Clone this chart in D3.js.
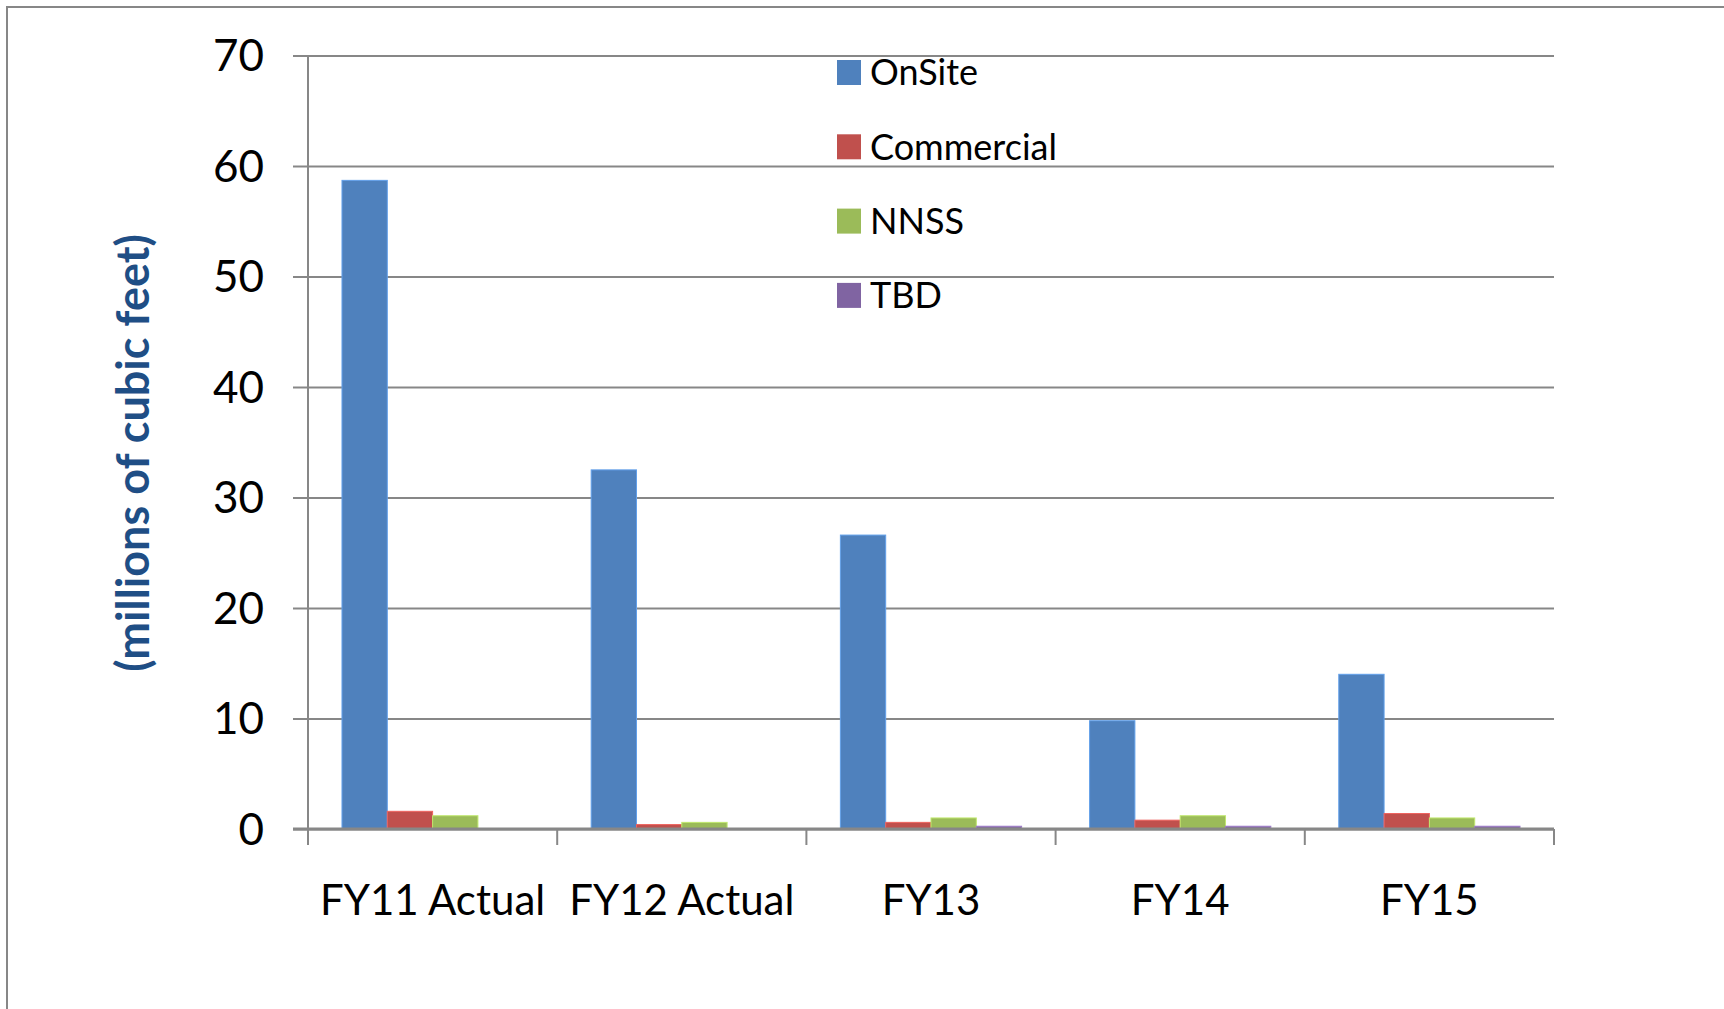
<!DOCTYPE html>
<html>
<head>
<meta charset="utf-8">
<script src="https://cdn.jsdelivr.net/npm/d3@7"></script>
<style>
  body { margin: 0; background: #fff; }
  text { font-family: Lato, "Noto Sans", sans-serif; }
</style>
</head>
<body>
<script>
// données
const categories = ["FY11 Actual", "FY12 Actual", "FY13", "FY14", "FY15"];
const seriesNames = ["OnSite", "Commercial", "NNSS", "TBD"];
const onSite = [58.7, 32.5, 26.6, 9.8, 14.0];
const commercial = [1.6, 0.4, 0.6, 0.8, 1.4];
const nnss = [1.2, 0.6, 1.0, 1.2, 1.0];
const tbd = [0, 0, 0.25, 0.25, 0.25];
const yTicks = [0, 10, 20, 30, 40, 50, 60, 70];
const colors = ["#4F81BD", "#C0504D", "#9BBB59", "#8064A2"];
const yTitle = "(millions of cubic feet)";

const values = [onSite, commercial, nnss, tbd];
const data = categories.map((c, i) => ({
    cat: c,
    vals: seriesNames.map((s, j) => ({ serie: s, v: values[j][i], color: colors[j] }))
}));

const W = 1724, H = 1009;
const margin = {top: 55.5, right: 170, bottom: 180, left: 308};
const width = W - margin.left - margin.right;
const height = H - margin.top - margin.bottom;
const gridColor = "#878787";

const svg = d3.select("body").append("svg")
    .attr("width", W)
    .attr("height", H);

// cadre de la zone du graphique (sort de l'image à droite et en bas)
svg.append("rect")
    .attr("x", 7).attr("y", 7)
    .attr("width", W + 20).attr("height", H + 20)
    .attr("fill", "none")
    .attr("stroke", gridColor)
    .attr("stroke-width", 2);

const g = svg.append("g")
    .attr("transform", `translate(${margin.left},${margin.top})`);

// Échelles
const x0 = d3.scaleBand().domain(categories).range([0, width]).padding(0);
const bw = x0.bandwidth() / 5.5;
const x1 = d3.scaleBand().domain(seriesNames)
    .range([x0.bandwidth() / 2 - 2 * bw, x0.bandwidth() / 2 + 2 * bw]).padding(0);
const y = d3.scaleLinear().domain([0, 70]).range([height, 0]);

// grille horizontale + petites graduations à gauche
const yAxis = g.append("g")
    .call(d3.axisLeft(y).tickValues(yTicks).tickSize(-width).tickPadding(0).tickFormat(""));
yAxis.select(".domain").remove();
yAxis.selectAll(".tick line")
    .attr("x1", -15)
    .attr("stroke", gridColor)
    .attr("stroke-width", 2);

// libellés de l'axe Y
g.append("g").selectAll("text")
    .data(yTicks)
    .join("text")
    .attr("x", -44)
    .attr("y", d => y(d))
    .attr("dy", "0.36em")
    .attr("text-anchor", "end")
    .attr("font-size", 44)
    .attr("fill", "#000")
    .text(d => d);

// barres
const groups = g.selectAll(".grp")
    .data(data)
    .join("g")
    .attr("transform", d => `translate(${x0(d.cat)},0)`);

groups.selectAll("rect")
    .data(d => d.vals)
    .join("rect")
    .attr("x", d => x1(d.serie))
    .attr("y", d => y(d.v))
    .attr("width", x1.bandwidth())
    .attr("height", d => height - y(d.v))
    .attr("fill", d => d.color)
    .attr("stroke", d => d3.color(d.color).brighter(0.6))
    .attr("stroke-width", d => d.v > 0 ? 1 : 0);

// axe des X
g.append("line")
    .attr("x1", -15).attr("x2", width)
    .attr("y1", height).attr("y2", height)
    .attr("stroke", gridColor).attr("stroke-width", 3);

g.append("line")
    .attr("x1", 0).attr("x2", 0)
    .attr("y1", 0).attr("y2", height + 16)
    .attr("stroke", gridColor).attr("stroke-width", 2);

const bounds = categories.map(c => x0(c)).concat([width]);
g.append("g").selectAll("line")
    .data(bounds)
    .join("line")
    .attr("x1", d => d).attr("x2", d => d)
    .attr("y1", height).attr("y2", height + 16)
    .attr("stroke", gridColor).attr("stroke-width", 2);

g.append("g").selectAll("text")
    .data(categories)
    .join("text")
    .attr("x", d => x0(d) + x0.bandwidth() / 2)
    .attr("y", height + 86)
    .attr("text-anchor", "middle")
    .attr("font-size", 42)
    .attr("fill", "#000")
    .text(d => d);

// titre de l'axe Y
svg.append("text")
    .attr("transform", `translate(133,453) rotate(-90)`)
    .attr("text-anchor", "middle")
    .attr("dy", "0.35em")
    .attr("font-size", 45)
    .attr("font-weight", "bold")
    .attr("fill", "#1F4E85")
    .text(yTitle);

// légende
const legend = svg.selectAll(".legend")
    .data(seriesNames)
    .join("g")
    .attr("transform", (d, i) => `translate(837,${72.5 + i * 74.3})`);

legend.append("rect")
    .attr("x", 0).attr("y", -12.5)
    .attr("width", 24).attr("height", 25)
    .attr("fill", (d, i) => colors[i]);

legend.append("text")
    .attr("x", 33).attr("y", 0)
    .attr("dy", "0.36em")
    .attr("font-size", 36)
    .attr("fill", "#000")
    .text(d => d);
</script>
</body>
</html>
